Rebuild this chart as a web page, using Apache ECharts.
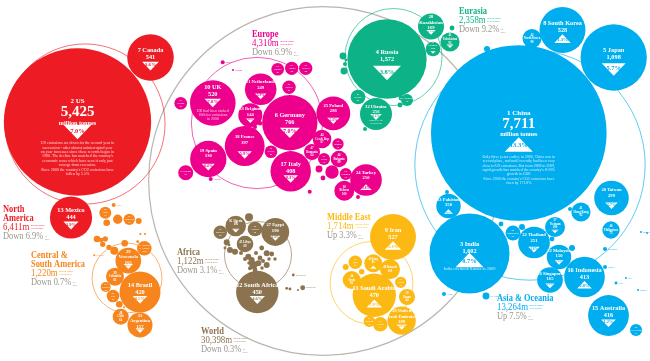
<!DOCTYPE html>
<html><head><meta charset="utf-8">
<style>html,body{margin:0;padding:0;background:#fff}#c{width:650px;height:361px}</style>
<script src="https://cdn.jsdelivr.net/npm/echarts@6/dist/echarts.min.js"></script>
</head><body><div id="c"></div>
<script>
// Rows: [x, y, emissions (Mt), label, % change 2008-09]
const northAmerica = [
 [77.5,122,5425,'2 US',-7.0],[150.5,57.5,541,'7 Canada',-3.6],[71,217.5,444,'13 Mexico',-1.9]
];
const centralSouth = [
 [140,292,420,'14 Brazil',-0.5],[128.3,260.7,165,'29\nVenezuela',-2.5],[115,276.7,81,'39\nColombia',null],
 [113,296,40,'55\nPeru',null],[105.7,287,25,'66\nEcuador',null],[120.7,316.7,64,'48\nChile',null],
 [140,325,157,'31\nArgentina',-4.1],[119.3,304.3,11,'',null],[124,307.3,1,'Bolivia',null],
 [105.3,212.7,36,'62\nCuba',null],[113.7,205,4,'Haiti',null],[106.7,222.7,11,'',null],[117.7,219.3,22,'',null],
 [129.3,219.3,32,'60\nDom Rep',null],[138.7,221,9,'',null],[97,239,11,'',null],[101.3,240,5,'',null],
 [105.3,239,7,'',null],[102.7,244.3,7,'',null],[109,247.3,7,'',null],[114.3,250.7,16,'',null],[124.7,243.3,11,'',null],
 [144.3,248.3,53,'51 Trinidad\n& Tobago\n50.4',null],[94.3,255.3,1,'Guyana',null],[140.3,234,1,'',null],[145,234,1,'',null],[137.7,241.7,2,'',null]
];
const europe = [
 [289.8,122.7,766,'6 Germany',-7.0],[212.8,103,520,'10 UK',-7.8],[260.7,89.3,249,'21 Netherlands',-1.9],[289,87.3,45,'56\nNorway',null],
 [244.7,146,397,'18 France',-5.9],[208.3,159,330,'19 Spain',-8.4],[333.3,113.3,286,'25 Poland',-5.3],[290.7,171.3,408,'17 Italy',-9.3],
 [250.3,115.3,144,'33 Belgium\n144',-4.2],[185.7,172.7,56,'53 Portugal',null],[180.7,103.3,40,'59\nIreland',null],
 [277.7,69.3,40,'61\nFinland',null],[291.7,68.3,44,'57\nAustria',null],[305.7,68.3,44,'58\nSweden',null],
 [271,151.7,40,'60\nGreece',null],[260,123.3,5,'',null],[255,127,4,'',null],[322,139,87,'44\nCzech Rep',null],
 [312,152,64,'47\nRomania',null],[338,144,32,'68\nHungary',null],[339,159,69,'46\nBulgaria',null],[324,159,36,'63\nSerbia',null],
 [332,172,45,'',null],[319,169,12,'',null],[323,178,6,'',null],[345.7,174,36,'64\nDenmark',null],[344.3,190.7,100,'38\nBelarus',null],
 [366,180,250,'24 Turkey',2.8],[222.7,62.3,4,'Malta',null],[233,70,1,'Iceland',null],[309.7,191.7,4,'',null],[210.7,179,4,'Cyprus',null],[358,197,4,'',null]
];
const eurasia = [
 [387,59,1572,'4 Russia',-3.8],[431,26.5,169,'28\nKazakhstan',-1.1],[450,42,92,'41\nUzbekistan',-1.9],[433,49,54,'52\nTurkmen-\nistan',-1.2],
 [452,28,6,'',null],[343,56,12,'',null],[346,60,2,'',null],[345,64,4,'',null],[344,71,12,'',null],[358,97,54,'49\nBelarus',null],
 [376,114,256,'12 Ukraine',-8.2],[407,100,36,'65 Azerbaijan',null],[400,105,6,'',null],[401,98,6,'',null],[365,129,4,'',null]
];
const asiaOceania = [
 [518.8,133,7711,'1 China',13.3],[613.7,57.5,1098,'5 Japan',-5.7],[562.5,30,528,'8 South Korea',1.3],[532,38.5,90,'42\nNorth Korea',null],[487,49,9,'',null],
 [469.5,253.5,1602,'3 India',8.7],[448.5,206,150,'23 Pakistan',1.6],[611.5,198,299,'20 Taiwan',-5.7],[611,230,75,'46\nPhilippines',null],
 [581,212,92,'41\nHong Kong',null],[555,227,100,'37\nVietnam',-0.7],[534,242.5,251,'22 Thailand',-1.8],[559,257,150,'32 Malaysia',-1.6],[513,233,55,'54\nBangladesh',null],
 [522,227,9,'',null],[501,224,6,'',null],[552,239,6,'',null],[572,248,9,'',null],[570,209,4,'',null],[486,296,12,'Sri Lanka',null],[444,294,4,'Nepal',null],[447,192,4,'',null],
 [584.5,277,413,'16 Indonesia',2.8],[550,280,165,'26 Singapore',-1.0],[608.5,315.5,416,'15 Australia',-1.2],[636,330,37,'64\nNew Zealand',null],
 [605,267,4,'Brunei',null],[605,249,4,'Myanmar',null],[616,283,2,'Laos',null],[626,278,1,'Fiji',null],[638,290,1,'Samoa',null],[641,232,1,'Macau',null],[647,233,1,'',null]
];
const africa = [
 [257.3,292,450,'12 South Africa',-4.6],[275.3,232,193,'27 Egypt\n190',-1.4],[235.7,226,106,'36 Algeria\n106',-1.1],[255,229,54,'52\nNigeria',null],
 [245,244,69,'45 Libya\n69',null],[220.3,232.3,45,'58\nMorocco',null],[249,217.3,16,'',null],[226.7,242.3,9,'',null],[230,250,9,'',null],[235,251.7,9,'',null],
 [248.3,256.7,9,'',null],[251.7,260,9,'',null],[253.3,265,16,'',null],[260,258,6,'',null],[266.7,253.3,9,'',null],[271.7,254,6,'',null],[266.7,265,9,'',null],
 [258.3,263.3,9,'',null],[255,270,6,'',null],[261.7,248,6,'',null],[250,268.3,4,'',null],[293.3,275,2,'Seychelles',null],[286.7,288.3,2,'',null],[290,289,2,'',null],[302.7,287.7,6,'Mauritius',null],[298,290,1,'',null],
 [241,253,4,'',null],[245,259,4,'',null],[256,253,4,'',null],[263,261,4,'',null],[262,268,3,'',null],[257,275,3,'',null],[249,263,3,'',null],[269,259,3,'',null],[275,259,3,'',null],[239,247,2,'',null],[225,248,2,'',null],[229,245,2,'',null]
];
const middleEast = [
 [393,237,527,'9 Iran',3.3],[374.3,295.3,470,'11 Saudi Arabia',7.9],[401.7,320.7,199,'26 United\nArab Emirates',-1.0],[373.3,263.3,81,'43 Iraq',2.4],
 [390,269.3,100,'40 Kuwait',null],[355.3,262.3,45,'58\nQatar',null],[351.7,280,81,'44\nSyria',null],[407,297,64,'50\nOman',null],[400.7,282.3,32,'67\nJordan',null],
 [380.3,324.3,53,'53\nYemen',null],[369.3,321.3,32,'69\nBahrain',null],[345.7,267,9,'',null],[361.7,271.7,7,'',null]
];
// Region rings: [x, y, region total]
const regionRows = [
 [323,181,30398],[85,124,6411],[127,278,1220],[257,123,4310],[393.5,57,2358],[530,165,13264],[258,255,1122],[371.5,283,1714]
];
const regionNames = ['World','North\nAmerica','Central &\nSouth America','Europe','Eurasia','Asia & Oceania','Africa','Middle East'];
const regionTotals = ['30,398m','6,411m','1,220m','4,310m','2,358m','13,264m','1,122m','1,714m'];
const regionChanges = ['Down 0.3%','Down 6.9%','Down 0.7%','Down 6.9%','Down 9.2%','Up 7.5%','Down 3.1%','Up 3.3%'];
const regionColors = ['#b9b6ae','#ED1C24','#F7851D','#EC008C','#0DB387','#00AEEF','#8B7350','#FDB913'];
const noteText = {
 '2 US':'US emissions are down for the second year in\nsuccession - after almost uninterrupted year\non year increases since these records began in\n1980. The decline has matched the country\'s\neconomic woes which have seen it only just\nemerge from recession.\nSince 2000 the country\'s CO2 emissions have\nfallen by 5.5%',
 '1 China':'Only three years earlier, in 2006, China was in\nsecond place, and until recently had been very\nclose to US emissions. But from 2008 to 2009,\nrapid growth has matched the country\'s 8-10%\ngrowth in GDP.\nSince 2000 the country\'s CO2 emissions have\nrisen by 171.8%',
 '10 UK':'UK had been ranked\n10th for emissions\nin 2008',
 '3 India':'India overtook Russia in 2009',
 '12 Ukraine':'Biggest % fall\nin emissions'
};

const FONT = '"Liberation Serif", "DejaVu Serif", serif';
const bubbleGroups = [[northAmerica,1],[centralSouth,2],[europe,3],[eurasia,4],[asiaOceania,5],[africa,6],[middleEast,7]];
const noteLayout = {'2 US':[36.5,4,4.4],'1 China':[37,3.9,4.4],'10 UK':[12,3.9,4.4],'3 India':[15.5,4.3,5],'12 Ukraine':[8,2.4,3]};
const triShift = {'2 US':10,'1 China':11.5,'3 India':6.5,'10 UK':0,'12 Ukraine':3};
const labelShift = {'2 US':-10,'1 China':-9.5,'10 UK':-12,'3 India':-5.5,'12 Ukraine':-4.5};
const rich = {
 big:{fontFamily:FONT,fontSize:7,fontWeight:'bold',color:'#fff',lineHeight:9},
 huge:{fontFamily:FONT,fontSize:15,fontWeight:'bold',color:'#fff',lineHeight:13},
 mt:{fontFamily:FONT,fontSize:6.2,fontWeight:'bold',color:'#fff',lineHeight:8},
 l:{fontFamily:FONT,fontSize:6.3,fontWeight:'bold',color:'#fff',lineHeight:7},
 m:{fontFamily:FONT,fontSize:4.6,fontWeight:'bold',color:'#fff',lineHeight:5.5},
 s:{fontFamily:FONT,fontSize:3,fontWeight:'bold',color:'#fff',lineHeight:3.6},
 xs:{fontFamily:FONT,fontSize:2.4,color:'#fff',lineHeight:3}
};
function fmt(v){return v.toLocaleString('en-US');}
function bubbleLabel(row){
 const r=Math.sqrt(row[2]),name=row[3];
 if(row[2]>5000) return [`{big|${name}}`,`{huge|${fmt(row[2])}}`,'{mt|million tonnes}'].join('\n');
 const cls=r>=20?'l':r>=12?'m':r>=8?'s':'xs';
 const lines=name.split('\n').map(t=>`{${cls}|${t}}`);
 if(!/\n\d+(\.\d+)?$/.test(name)) lines.push(`{${cls}|${fmt(row[2])}}`);
 return lines.join('\n');
}
const series=[{
 type:'scatter',z:1,silent:true,symbol:'circle',
 data:regionRows.map((row,i)=>({value:row,itemStyle:{color:'transparent',borderColor:regionColors[i],borderWidth:i===0?1.2:0.9,opacity:i===0?1:0.7}})),
 symbolSize:d=>2*Math.sqrt(d[2])
}];
bubbleGroups.forEach(([rows,ci])=>{
 const color=regionColors[ci];
 series.push({
  type:'scatter',z:2,silent:true,symbol:'circle',itemStyle:{color,opacity:1},
  symbolSize:d=>2*Math.sqrt(d[2]),
  data:rows.map(row=>{
   const r=Math.sqrt(row[2]);
   let label={show:false};
   if(row[3]&&r>=5) label={show:true,position:'inside',rich,formatter:bubbleLabel(row),offset:[0,labelShift[row[3]]??(r>=20?-3.5:row[4]!==null?-0.3*r:0)]};
   else if(row[3]) label={show:true,position:'right',distance:1,formatter:row[3],fontFamily:FONT,fontSize:2.4,color};
   return {value:row,label};
  })
 });
 const tri=rows.filter(row=>row[4]!==null);
 series.push({
  type:'scatter',z:3,silent:true,symbol:'triangle',itemStyle:{color:'#fff',opacity:1},
  data:tri.map(row=>{
   const r=Math.sqrt(row[2]),w=Math.min(28,r*0.72),h=w*0.52;
   const off=triShift[row[3]]??(r>=20?0.33*r+1:0.45*r);
   const up=row[4]>0;
   return {value:[row[0],row[1]+off],symbolSize:[w,h],symbolRotate:up?0:180,
    label:{show:true,position:'inside',formatter:Math.abs(row[4]).toFixed(1)+'%',fontFamily:FONT,fontWeight:'bold',fontSize:Math.min(6.5,w*0.3),color,offset:[0,up?1:-1]}};
  })
 });
 const notes=rows.filter(row=>noteText[row[3]]);
 if(notes.length) series.push({
  type:'scatter',z:4,silent:true,symbolSize:0,
  data:notes.map(row=>{
   const [off,fs,lh]=noteLayout[row[3]];
   return {value:[row[0],row[1]+off],label:{show:true,position:'inside',formatter:noteText[row[3]],fontFamily:FONT,fontSize:fs,lineHeight:lh,color:'#fff',align:'center'}};
  })
 });
});

// Region captions: [left x, name line y]
const captionAnchors=[[201,331],[3,209],[31,255],[252,34],[459,11],[497,298],[177,252],[327,217]];
const graphic=[];
const meas=document.createElement('canvas').getContext('2d');
const WIDE=0.84;
function cap(x,y,text,font,fill,sx,lh){
 graphic.push({type:'text',x,y,scaleX:sx,silent:true,z:10,style:{text,font,fill,verticalAlign:'middle',lineHeight:lh}});
}
regionNames.forEach((nm,i)=>{
 const [x,y0]=captionAnchors[i];
 const tone=i===0?'#8B7350':regionColors[i];
 let y=y0;
 nm.split('\n').forEach(line=>{
  cap(x,y,line,'bold 10px '+FONT,tone,WIDE);
  y+=9;
 });
 const numFont='10.5px '+FONT;
 cap(x,y,regionTotals[i],numFont,tone,WIDE);
 meas.font=numFont;
 const w=meas.measureText(regionTotals[i]).width*WIDE;
 cap(x+w+1.5,y,'million tonnes\nCO2 in 2009','2.4px '+FONT,tone,1,3);
 y+=9.5;
 const chFont='10px '+FONT;
 cap(x,y,regionChanges[i],chFont,'#99958c',WIDE);
 meas.font=chFont;
 const w2=meas.measureText(regionChanges[i]).width*WIDE;
 cap(x+w2+1.5,y+1,'on\n2008','2.4px '+FONT,'#99958c',1,3);
});

const chart=echarts.init(document.getElementById('c'),null,{renderer:'canvas'});
chart.setOption({
 animation:false,backgroundColor:'#fff',
 grid:{left:0,right:0,top:0,bottom:0},
 xAxis:{type:'value',min:0,max:650,show:false},
 yAxis:{type:'value',min:0,max:361,inverse:true,show:false},
 series,graphic
});
</script></body></html>
